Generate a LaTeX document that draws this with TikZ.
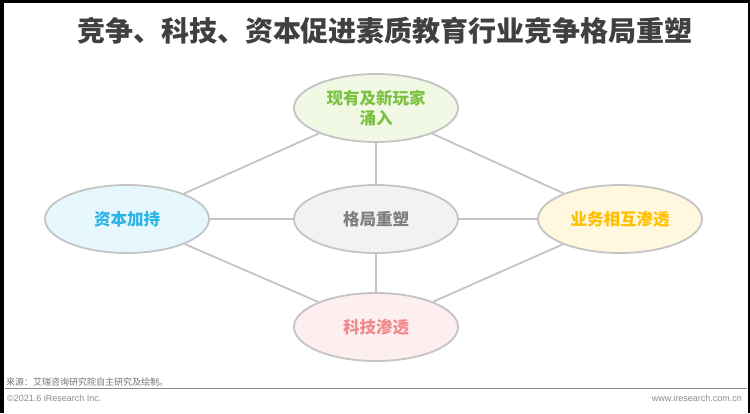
\documentclass[tikz,border=0pt]{standalone}
\usepackage{fontspec}
\setmainfont{Liberation Sans}
\newfontfamily\cjk{Noto Sans CJK SC}
\usetikzlibrary{shapes.geometric}
\definecolor{edgegray}{HTML}{C4C4C4}
\definecolor{titlegray}{HTML}{404040}
\definecolor{footgray}{HTML}{8C8C8C}
\definecolor{greenfill}{HTML}{F1F8E4}
\definecolor{greentext}{HTML}{7CC242}
\definecolor{bluefill}{HTML}{E6F7FD}
\definecolor{bluetext}{HTML}{2DB4E6}
\definecolor{yellowfill}{HTML}{FFF8DF}
\definecolor{yellowtext}{HTML}{FFC000}
\definecolor{pinkfill}{HTML}{FDEFEF}
\definecolor{pinktext}{HTML}{F08A8C}
\definecolor{midfill}{HTML}{F2F2F2}
\definecolor{midtext}{HTML}{7F7F7F}
\newcommand{\makebubble}[6]{
	\node[bubble, fill=#4, text=#5] (#1) at (#2,#3) {#6};
}

\begin{document}
\begin{tikzpicture}[x=1pt,y=-1pt,
	bubble/.style={ellipse, draw=edgegray, line width=1.8pt,
		minimum width=164pt, minimum height=68pt, inner sep=0pt,
		font=\cjk\bfseries\fontsize{16.5}{20}\selectfont, align=center},
	link/.style={draw=edgegray, line width=1.8pt}]
	\fill[black] (0,0) rectangle (750,413);
	\fill[white] (4,3) rectangle (748,413);

	\node[font=\cjk\bfseries\fontsize{28}{32}\selectfont, text=titlegray] (title) at (385,31)
		{竞争、科技、资本促进素质教育行业竞争格局重塑};

	\makebubble{N}{376}{108}{greenfill}{greentext}{现有及新玩家\\涌入}
	\makebubble{C}{376}{219}{midfill}{midtext}{格局重塑}
	\makebubble{W}{127}{219}{bluefill}{bluetext}{资本加持}
	\makebubble{E}{620}{219}{yellowfill}{yellowtext}{业务相互渗透}
	\makebubble{S}{376}{327}{pinkfill}{pinktext}{科技渗透}

	\draw[link] (N) -- (C);
	\draw[link] (C) -- (S);
	\draw[link] (W) -- (C);
	\draw[link] (C) -- (E);
	\draw[link] (W) -- (N);
	\draw[link] (N) -- (E);
	\draw[link] (W) -- (S);
	\draw[link] (S) -- (E);

	\coordinate (FL) at (5,388);
	\coordinate (FR) at (747,388);
	\draw[footgray, line width=1pt] (FL) -- (FR);
	\node[anchor=south west, inner sep=1pt, font=\cjk\fontsize{9}{10}\selectfont, text=footgray!120] (src) at (FL)
		{来源：艾瑞咨询研究院自主研究及绘制。};
	\node[anchor=west, inner sep=1pt, font=\fontsize{9}{10}\selectfont, text=footgray] (copy) at (6,398)
		{©2021.6 iResearch Inc.};
	\node[anchor=east, inner sep=1pt, font=\fontsize{9}{10}\selectfont, text=footgray] (web) at (743,398)
		{www.iresearch.com.cn};
\end{tikzpicture}
\end{document}
